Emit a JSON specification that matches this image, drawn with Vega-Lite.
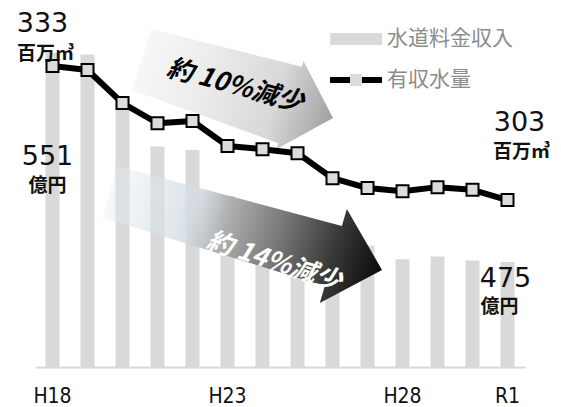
{
  "$schema": "https://vega.github.io/schema/vega-lite/v6.json",
  "width": 490,
  "height": 367,
  "autosize": {"type": "none"},
  "padding": {"left": 35, "top": 0, "right": 36, "bottom": 40},
  "background": "white",
  "config": {"view": {"stroke": null}, "font": "Noto Sans CJK JP"},
  "datasets": {
    "main": [
      {"year": "H18", "revenue": 551, "volume": 333},
      {"year": "H19", "revenue": 550.5, "volume": 332.1},
      {"year": "H20", "revenue": 534, "volume": 324.7},
      {"year": "H21", "revenue": 517, "volume": 320.2},
      {"year": "H22", "revenue": 515.7, "volume": 320.7},
      {"year": "H23", "revenue": 499, "volume": 315.1},
      {"year": "H24", "revenue": 495, "volume": 314.4},
      {"year": "H25", "revenue": 490, "volume": 313.5},
      {"year": "H26", "revenue": 486, "volume": 307.9},
      {"year": "H27", "revenue": 481, "volume": 305.7},
      {"year": "H28", "revenue": 476, "volume": 305.0},
      {"year": "H29", "revenue": 477, "volume": 305.9},
      {"year": "H30", "revenue": 475.5, "volume": 305.3},
      {"year": "R1", "revenue": 475, "volume": 303}
    ]
  },
  "encoding": {
    "x": {
      "field": "year",
      "type": "nominal",
      "sort": null,
      "scale": {
        "type": "band",
        "domain": ["H18","H19","H20","H21","H22","H23","H24","H25","H26","H27","H28","H29","H30","R1"],
        "paddingInner": 0.6,
        "paddingOuter": 0.3
      },
      "axis": {
        "values": ["H18","H23","H28","R1"],
        "title": null,
        "ticks": false,
        "grid": false,
        "domainColor": "#d9d9d9",
        "domainWidth": 2,
        "labelAngle": 0,
        "labelFont": "DejaVu Sans Condensed, Liberation Sans, sans-serif",
        "labelFontSize": 21,
        "labelColor": "#111111",
        "labelPadding": 18
      }
    }
  },
  "layer": [
    {
      "layer": [
        {
          "data": {"name": "main"},
          "mark": {"type": "bar", "opacity": 1, "clip": true},
          "encoding": {
            "y": {"field": "revenue", "type": "quantitative", "scale": {"domain": [436.8, 570.3], "zero": false, "nice": false}, "axis": null},
            "fill": {
              "datum": "水道料金収入",
              "type": "nominal",
              "scale": {"domain": ["水道料金収入"], "range": ["#d9d9d9"]},
              "legend": {
                "orient": "none",
                "legendX": 304.75,
                "legendY": 22.5,
                "title": null,
                "padding": 0,
                "symbolType": "M-1.6,-0.37H1.6V0.37H-1.6Z",
                "symbolSize": 1056,
                "symbolStrokeWidth": 0,
                "symbolOpacity": 1,
                "labelOffset": 14.25,
                "labelFont": "Noto Sans CJK JP",
                "labelFontSize": 21,
                "labelColor": "#8c8c8c"
              }
            }
          }
        },
        {
          "data": {"name": "main"},
          "transform": [{"filter": "datum.year === 'H18'"}],
          "mark": {"type": "text", "font": "DejaVu Sans", "fontSize": 27, "align": "center", "baseline": "alphabetic", "dx": -5, "dy": 112, "color": "#111111"},
          "encoding": {
            "y": {"field": "revenue", "type": "quantitative", "scale": {"domain": [436.8, 570.3], "zero": false, "nice": false}, "axis": null},
            "text": {"field": "revenue", "type": "quantitative"}
          }
        },
        {
          "data": {"name": "main"},
          "transform": [{"filter": "datum.year === 'H18'"}],
          "mark": {"type": "text", "text": "億円", "font": "Noto Sans CJK JP", "fontWeight": "bold", "fontSize": 19, "align": "center", "baseline": "alphabetic", "dx": -5, "dy": 139, "color": "#111111"},
          "encoding": {
            "y": {"field": "revenue", "type": "quantitative", "scale": {"domain": [436.8, 570.3], "zero": false, "nice": false}, "axis": null}
          }
        },
        {
          "data": {"name": "main"},
          "transform": [{"filter": "datum.year === 'R1'"}],
          "mark": {"type": "text", "font": "DejaVu Sans", "fontSize": 27, "align": "center", "baseline": "alphabetic", "dx": -2, "dy": 25, "color": "#111111"},
          "encoding": {
            "y": {"field": "revenue", "type": "quantitative", "scale": {"domain": [436.8, 570.3], "zero": false, "nice": false}, "axis": null},
            "text": {"field": "revenue", "type": "quantitative"}
          }
        },
        {
          "data": {"name": "main"},
          "transform": [{"filter": "datum.year === 'R1'"}],
          "mark": {"type": "text", "text": "億円", "font": "Noto Sans CJK JP", "fontWeight": "bold", "fontSize": 19, "align": "center", "baseline": "alphabetic", "dx": -8, "dy": 51, "color": "#111111"},
          "encoding": {
            "y": {"field": "revenue", "type": "quantitative", "scale": {"domain": [436.8, 570.3], "zero": false, "nice": false}, "axis": null}
          }
        }
      ]
    },
    {
      "layer": [
        {
          "data": {"values": [{"year": "H23", "level": 327.9}]},
          "mark": {
            "type": "point",
            "shape": "M-1,-0.32L0.55,-0.40L0.55,-0.46L1,0L0.55,0.46L0.55,0.40L-1,0.32Z",
            "size": 40000,
            "angle": 17,
            "xOffset": 9.9,
            "filled": true,
            "opacity": 1,
            "strokeWidth": 0,
            "fill": {"gradient": "linear", "x1": 0, "y1": 0, "x2": 1, "y2": 0, "stops": [
              {"offset": 0, "color": "rgba(238,238,238,0.5)"},
              {"offset": 0.35, "color": "#ebebeb"},
              {"offset": 0.7, "color": "#d8d8d8"},
              {"offset": 1, "color": "#a0a0a0"}
            ]}
          },
          "encoding": {
            "y": {"field": "level", "type": "quantitative", "scale": {"domain": [265.66, 347.77], "zero": false, "nice": false}, "axis": null}
          }
        },
        {
          "data": {"values": [{"year": "H23", "level": 296.1}]},
          "mark": {
            "type": "point",
            "shape": "M-1,-0.19L0.642,-0.22L0.642,-0.346L1,0L0.642,0.346L0.642,0.22L-1,0.19Z",
            "size": 80089,
            "angle": 16,
            "xOffset": 18.5,
            "filled": true,
            "opacity": 1,
            "strokeWidth": 0,
            "fill": {"gradient": "linear", "x1": 0, "y1": 0, "x2": 1, "y2": 0, "stops": [
              {"offset": 0, "color": "rgba(228,235,240,0.35)"},
              {"offset": 0.3, "color": "rgba(212,220,226,0.85)"},
              {"offset": 0.42, "color": "#b0b0b0"},
              {"offset": 0.62, "color": "#777777"},
              {"offset": 0.82, "color": "#383838"},
              {"offset": 1, "color": "#0a0a0a"}
            ]}
          },
          "encoding": {
            "y": {"field": "level", "type": "quantitative", "scale": {"domain": [265.66, 347.77], "zero": false, "nice": false}, "axis": null}
          }
        },
        {
          "data": {"values": [{"year": "H23", "level": 327.9, "label": "約 10%減少"}]},
          "mark": {"type": "text", "font": "Noto Sans CJK JP", "fontWeight": "bold", "fontStyle": "italic", "fontSize": 26, "align": "center", "baseline": "middle", "angle": 15, "dx": 6.5, "dy": -4.8, "color": "#000000"},
          "encoding": {
            "y": {"field": "level", "type": "quantitative", "scale": {"domain": [265.66, 347.77], "zero": false, "nice": false}, "axis": null},
            "text": {"field": "label"}
          }
        },
        {
          "data": {"values": [{"year": "H23", "level": 296.1, "label": "約 14%減少"}]},
          "mark": {"type": "text", "font": "Noto Sans CJK JP", "fontWeight": "bold", "fontStyle": "italic", "fontSize": 26, "align": "center", "baseline": "middle", "angle": 18, "dx": 53.5, "dy": 15, "color": "#ffffff"},
          "encoding": {
            "y": {"field": "level", "type": "quantitative", "scale": {"domain": [265.66, 347.77], "zero": false, "nice": false}, "axis": null},
            "text": {"field": "label"}
          }
        },
        {
          "data": {"name": "main"},
          "mark": {"type": "line", "strokeWidth": 6, "strokeJoin": "round"},
          "encoding": {
            "y": {"field": "volume", "type": "quantitative", "scale": {"domain": [265.66, 347.77], "zero": false, "nice": false}, "axis": null},
            "stroke": {
              "datum": "有収水量",
              "type": "nominal",
              "scale": {"domain": ["有収水量"], "range": ["#000000"]},
              "legend": {
                "orient": "none",
                "legendX": 301.5,
                "legendY": 60.5,
                "title": null,
                "padding": 0,
                "symbolType": "M-1.6,0H1.6",
                "symbolSize": 1056,
                "symbolStrokeWidth": 6,
                "symbolOpacity": 1,
                "labelOffset": 11.5,
                "labelFont": "Noto Sans CJK JP",
                "labelFontSize": 21,
                "labelColor": "#8c8c8c"
              }
            }
          }
        },
        {
          "data": {"name": "main"},
          "mark": {"type": "point", "size": 144, "filled": true, "fill": "#dcdcdc", "stroke": "#000000", "strokeWidth": 2, "opacity": 1},
          "encoding": {
            "y": {"field": "volume", "type": "quantitative", "scale": {"domain": [265.66, 347.77], "zero": false, "nice": false}, "axis": null},
            "shape": {
              "datum": "marker",
              "type": "nominal",
              "scale": {"domain": ["marker"], "range": ["square"]},
              "legend": {
                "orient": "none",
                "legendX": 314,
                "legendY": 73,
                "title": null,
                "padding": 0,
                "symbolSize": 144,
                "symbolStrokeWidth": 2,
                "symbolStrokeColor": "#000000",
                "symbolFillColor": "#dcdcdc",
                "symbolOpacity": 1,
                "labelExpr": "''",
                "labelFontSize": 1
              }
            }
          }
        },
        {
          "data": {"name": "main"},
          "transform": [{"filter": "datum.year === 'H18'"}],
          "mark": {"type": "text", "font": "DejaVu Sans", "fontSize": 27, "align": "center", "baseline": "alphabetic", "dx": -10, "dy": -34, "color": "#111111"},
          "encoding": {
            "y": {"field": "volume", "type": "quantitative", "scale": {"domain": [265.66, 347.77], "zero": false, "nice": false}, "axis": null},
            "text": {"field": "volume", "type": "quantitative"}
          }
        },
        {
          "data": {"name": "main"},
          "transform": [{"filter": "datum.year === 'H18'"}],
          "mark": {"type": "text", "text": "百万㎥", "font": "Noto Sans CJK JP", "fontWeight": "bold", "fontSize": 19, "align": "center", "baseline": "alphabetic", "dx": -7, "dy": -6, "color": "#111111"},
          "encoding": {
            "y": {"field": "volume", "type": "quantitative", "scale": {"domain": [265.66, 347.77], "zero": false, "nice": false}, "axis": null}
          }
        },
        {
          "data": {"name": "main"},
          "transform": [{"filter": "datum.year === 'R1'"}],
          "mark": {"type": "text", "font": "DejaVu Sans", "fontSize": 27, "align": "center", "baseline": "alphabetic", "dx": 12, "dy": -69, "color": "#111111"},
          "encoding": {
            "y": {"field": "volume", "type": "quantitative", "scale": {"domain": [265.66, 347.77], "zero": false, "nice": false}, "axis": null},
            "text": {"field": "volume", "type": "quantitative"}
          }
        },
        {
          "data": {"name": "main"},
          "transform": [{"filter": "datum.year === 'R1'"}],
          "mark": {"type": "text", "text": "百万㎥", "font": "Noto Sans CJK JP", "fontWeight": "bold", "fontSize": 19, "align": "center", "baseline": "alphabetic", "dx": 14, "dy": -42, "color": "#111111"},
          "encoding": {
            "y": {"field": "volume", "type": "quantitative", "scale": {"domain": [265.66, 347.77], "zero": false, "nice": false}, "axis": null}
          }
        }
      ]
    }
  ],
  "resolve": {"scale": {"y": "independent"}}
}
